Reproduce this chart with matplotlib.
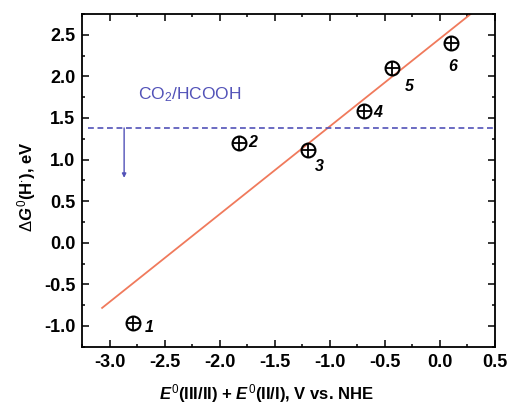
#!/usr/bin/env python3
"""
Free energy of H-atom transfer vs. sum of redox potentials, with linear fit
and the CO2/HCOOH threshold line.
"""

import numpy as np
import matplotlib
matplotlib.use('Agg')  # headless
import matplotlib.pyplot as plt
from matplotlib.ticker import MultipleLocator

# Data
point_ids = ['1', '2', '3', '4', '5', '6']
e_sum = [-2.79, -1.83, -1.20, -0.69, -0.44, 0.10]        # V vs. NHE
dg_h = [-0.97, 1.20, 1.12, 1.58, 2.10, 2.40]             # eV
# label offsets (points) for the numbers next to each marker
label_dx = [12, 10, 8, 10, 13, 1]
label_dy = [-3, 0, -12, -1, -13, -17]

fit_intercept = 2.455
fit_slope = 1.055
fit_x_range = [-3.07, 0.45]

co2_level = 1.38
co2_x_range = [-3.2, 0.5]
arrow_x = -2.87
arrow_y_end = 0.78

LINE_COLOR = '#f07a5c'
CO2_COLOR = '#5252b8'

plt.rcParams['font.family'] = ['Liberation Sans', 'DejaVu Sans']
plt.rcParams['mathtext.fontset'] = 'custom'
plt.rcParams['mathtext.rm'] = 'Liberation Sans'
plt.rcParams['mathtext.it'] = 'Liberation Sans:italic:bold'
plt.rcParams['mathtext.bf'] = 'Liberation Sans:bold'


def make_plot():
    fig = plt.figure(figsize=(5.09, 4.05), dpi=100)
    ax = fig.add_axes([0.1617, 0.144, 0.8108, 0.8215])

    # linear fit line
    xf = np.array(fit_x_range)
    ax.plot(xf, fit_intercept + fit_slope * xf, color=LINE_COLOR, lw=1.3, zorder=2)

    # CO2/HCOOH level and arrow
    ax.plot(co2_x_range, [co2_level, co2_level], color=CO2_COLOR, lw=1.2,
            dashes=(3.5, 2.2), zorder=2)
    ax.annotate('', xy=(arrow_x, arrow_y_end), xytext=(arrow_x, co2_level),
                arrowprops=dict(arrowstyle='-|>', color=CO2_COLOR, lw=1.0,
                                mutation_scale=6, shrinkA=0, shrinkB=0))
    ax.text(-2.74, 1.72, r'CO$_2$/HCOOH', color=CO2_COLOR, fontsize=12.5,
            va='baseline', ha='left')

    # circle-plus markers
    ax.plot(e_sum, dg_h, 'o', ms=10, mfc='none', mec='black', mew=1.5, zorder=3)
    ax.plot(e_sum, dg_h, '+', ms=10, mec='black', mew=1.3, zorder=3)
    for x, y, lab, dx, dy in zip(e_sum, dg_h, point_ids, label_dx, label_dy):
        ax.annotate(lab, xy=(x, y), xytext=(dx, dy), textcoords='offset points',
                    fontsize=11.5, fontweight='bold', fontstyle='italic',
                    ha='center', va='center')

    ax.set_xlim(-3.25, 0.5)
    ax.set_ylim(-1.25, 2.75)
    ax.xaxis.set_major_locator(MultipleLocator(0.5))
    ax.xaxis.set_minor_locator(MultipleLocator(0.25))
    ax.yaxis.set_major_locator(MultipleLocator(0.5))
    ax.yaxis.set_minor_locator(MultipleLocator(0.25))
    ax.xaxis.set_major_formatter(plt.FuncFormatter(lambda v, p: f'{v:.1f}'))
    ax.yaxis.set_major_formatter(plt.FuncFormatter(lambda v, p: f'{v:.1f}'))

    ax.tick_params(which='both', direction='in', top=True, right=True,
                   width=1.1, labelsize=13, pad=5)
    ax.tick_params(which='major', length=5)
    ax.tick_params(which='minor', length=2.5)
    for lbl in ax.get_xticklabels() + ax.get_yticklabels():
        lbl.set_fontweight('bold')
    for s in ax.spines.values():
        s.set_linewidth(1.3)

    ax.set_xlabel(r'$E^0$(III/II) + $E^0$(II/I), V vs. NHE', fontsize=12,
                  fontweight='bold', labelpad=8)
    ax.xaxis.label.set_x(0.447)
    ax.set_ylabel(r'$\Delta G^0$(H$^{\bullet}$), eV', fontsize=12,
                  fontweight='bold', labelpad=4)
    ax.yaxis.label.set_y(0.48)

    return fig


def main():
    fig = make_plot()
    fig.savefig('out.png', dpi=100)
    plt.close(fig)


if __name__ == '__main__':
    main()
